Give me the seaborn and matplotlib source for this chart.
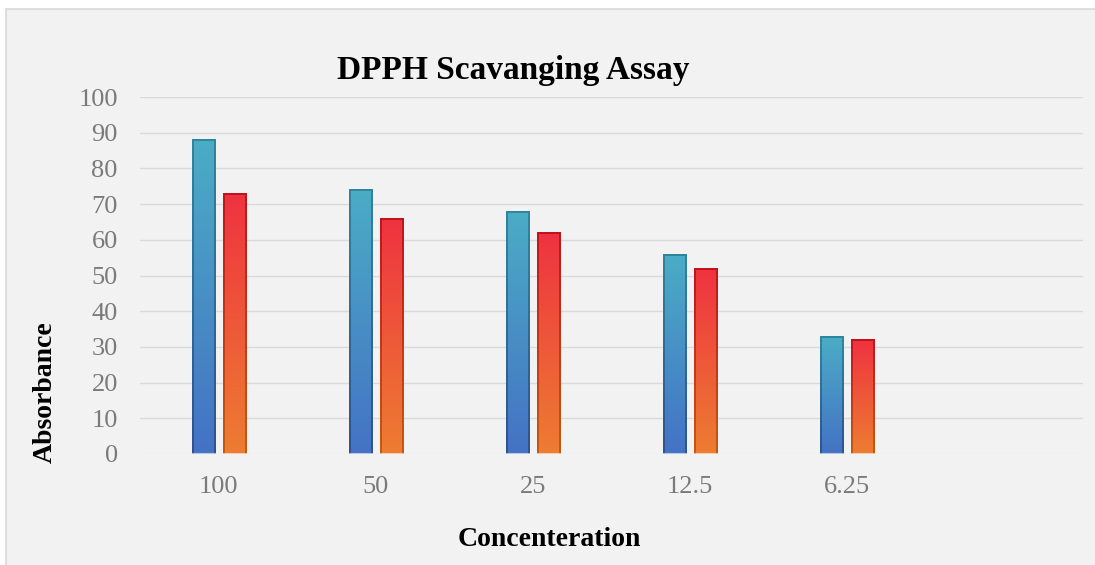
import numpy as np
import pandas as pd
import matplotlib
matplotlib.use("Agg")
import matplotlib.pyplot as plt
from matplotlib.colors import LinearSegmentedColormap
from matplotlib.patches import Rectangle
import seaborn as sns

# DPPH scavenging (%) at each concentration
concentrations = ["100", "50", "25", "12.5", "6.25"]
extract_values = [88, 74, 68, 56, 33]
standard_values = [73, 66, 62, 52, 32]
series_names = ["Extract", "Standard"]
y_ticks = [0, 10, 20, 30, 40, 50, 60, 70, 80, 90, 100]

df = pd.DataFrame({
    "Concentration": concentrations * 2,
    "Value": extract_values + standard_values,
    "Series": [series_names[0]] * len(concentrations) + [series_names[1]] * len(concentrations),
})

sns.set_theme(style="white")
plt.rcParams["font.family"] = ["Liberation Serif", "DejaVu Serif"]

W, H = 1095, 565
fig = plt.figure(figsize=(W / 100, H / 100), dpi=100)
fig.patch.set_facecolor("white")
# chart-area panel with a thin border on its top and left
fig.patches.append(Rectangle((6 / W, -0.05), 1.1, 1.05 - 9 / H, transform=fig.transFigure,
                             facecolor="#f2f2f2", edgecolor="#d9d9d9", linewidth=1.2, zorder=-5))

ax = fig.add_axes([140 / W, 1 - 454 / H, (1083 - 140) / W, (454 - 97) / H])
ax.set_facecolor("none")
ax.set_zorder(1)

sns.barplot(data=df, x="Concentration", y="Value", hue="Series", order=concentrations,
            hue_order=series_names, width=0.394, gap=0.254, ax=ax, legend=False,
            palette=["#4472c4", "#ed7d31"], zorder=3)

ax.set_xlim(-0.5, 5.5)
ax.set_ylim(0, 100)
ax.set_yticks(y_ticks)
ax.grid(axis="y", color="#d9d9d9", linewidth=1.0, zorder=0)
ax.set_axisbelow(True)
for s in ax.spines.values():
    s.set_visible(False)

gradients = {
    0: (("#4472c4", "#4bacc6"), ("#2f528f", "#31859c")),
    1: (("#ed7d31", "#ef3340"), ("#c55a11", "#c0141e")),
}

def gradient_img(c_bottom, c_top):
    cmap = LinearSegmentedColormap.from_list("g", [c_bottom, c_top])
    return cmap(np.linspace(0, 1, 256))[::-1].reshape(256, 1, 4)

px_x = 1 / 157.2
px_y = 100 / 357
for i, container in enumerate(ax.containers):
    (fill_b, fill_t), (edge_b, edge_t) = gradients[i]
    for patch in container:
        x0, w = patch.get_x(), patch.get_width()
        h = patch.get_height()
        patch.set_visible(False)
        ax.imshow(gradient_img(edge_b, edge_t), extent=(x0, x0 + w, 0, h),
                  aspect="auto", zorder=3, interpolation="bilinear")
        ax.imshow(gradient_img(fill_b, fill_t),
                  extent=(x0 + 2 * px_x, x0 + w - 2 * px_x, 0, h - 2 * px_y),
                  aspect="auto", zorder=3.1, interpolation="bilinear")

ax.set_xlim(-0.5, 5.5)
ax.set_ylim(0, 100)
ax.axhline(0, color="#d9d9d9", linewidth=1.2, zorder=2)
ax.axhline(0.25, color="#ffffff", linewidth=0.8, alpha=0.6, zorder=4)

ax.tick_params(axis="both", length=0, labelsize=19, colors="#7a7a7a")
ax.tick_params(axis="y", pad=16)
ax.tick_params(axis="x", pad=16)
ax.set_xlabel("")
ax.set_ylabel("")

fig.text(513 / W, 1 - 70 / H, "DPPH Scavanging Assay", ha="center", va="center",
         fontsize=24, fontweight="bold", color="black")
fig.text(549 / W, 1 - 540 / H, "Concenteration", ha="center", va="center",
         fontsize=20, fontweight="bold", color="black")
fig.text(45 / W, 1 - 392 / H, "Absorbance", ha="center", va="center", rotation=90,
         fontsize=20, fontweight="bold", color="black")

fig.savefig("out.png", dpi=100, facecolor=fig.get_facecolor())
